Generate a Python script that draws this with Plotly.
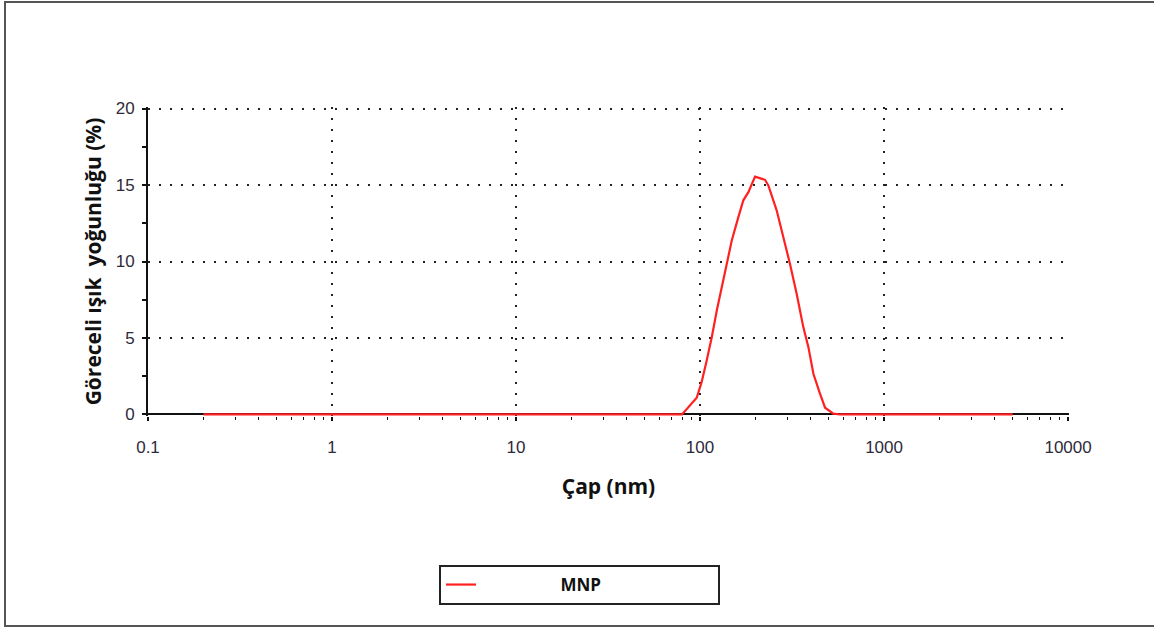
import plotly.graph_objects as go

# Data
diameter_nm = [0.2, 1, 10, 50, 79.8, 95.9, 102, 108.7, 115.8, 123.3, 131.2, 139.7, 148.7,
               161.5, 171.9, 183.1, 199, 225.5, 235, 261, 284, 308, 335, 364, 388,
               413, 449, 478, 530, 577, 1000, 5000]
intensity_pct = [0, 0, 0, 0, 0, 1.09, 2.11, 3.53, 5.05, 6.80, 8.32, 9.85, 11.37,
                 12.9, 14.0, 14.53, 15.55, 15.34, 14.97, 13.33, 11.59, 9.85, 7.89, 5.71, 4.40,
                 2.66, 1.35, 0.44, 0.05, 0, 0, 0]
series_name = "MNP"
x_tick_vals = [0.1, 1, 10, 100, 1000, 10000]
x_tick_text = ["0.1", "1", "10", "100", "1000", "10000"]
y_tick_vals = [0, 5, 10, 15, 20]

W, H = 1154, 630
L, R, T, B = 148, 85, 107, 214
pw, ph = W - L - R, H - T - B

def px_x(p):
    return (p - L) / pw

def px_y(p):
    return (H - B - p) / ph

fig = go.Figure()
fig.add_trace(go.Scatter(
    x=diameter_nm, y=intensity_pct, mode="lines",
    name="\u00a0" * 18 + "<b>" + series_name + "</b>",
    line=dict(color="#ff2020", width=2.2), showlegend=True,
))

tick_font = dict(family="Liberation Sans, Arial, sans-serif", size=17, color="#2e2a3a")
title_font_x = dict(family="Open Sans, sans-serif", size=21, color="#111111")
title_font_y = dict(family="Open Sans, sans-serif", size=21, color="#111111")

fig.update_layout(
    width=W, height=H,
    margin=dict(l=L, r=R, t=T, b=B),
    paper_bgcolor="white", plot_bgcolor="white",
    showlegend=True,
    legend=dict(
        x=px_x(439), y=px_y(565), xanchor="left", yanchor="top",
        orientation="h", bordercolor="#222222", borderwidth=2,
        bgcolor="white", entrywidth=232, entrywidthmode="pixels",
        font=dict(family="Open Sans, sans-serif", size=17, color="#111111"),
    ),
    shapes=[dict(
        type="rect", xref="paper", yref="paper",
        x0=px_x(5), x1=px_x(1170), y0=px_y(626), y1=px_y(2),
        line=dict(color="#555555", width=2), fillcolor="rgba(0,0,0,0)", layer="below",
    )],
)

fig.update_xaxes(
    type="log", range=[-1, 4.005],
    tickvals=x_tick_vals, ticktext=x_tick_text,
    ticks="outside", ticklen=4, tickwidth=1.5, tickcolor="#111111",
    minor=dict(ticks="outside", ticklen=3, tickwidth=1.2, tickcolor="#111111",
               showgrid=False, dtick="D1"),
    showline=False,
    showgrid=True, gridcolor="#222222", gridwidth=1.8, griddash="2px,9px",
    zeroline=False, layer="below traces",
    tickfont=tick_font, ticklabelstandoff=12,
    title=dict(text="<b>Çap (nm)</b>", font=title_font_x, standoff=22),
)
fig.update_yaxes(
    range=[-0.1, 20.1],
    tickvals=y_tick_vals,
    ticks="outside", ticklen=4, tickwidth=1.5, tickcolor="#111111",
    minor=dict(ticks="outside", ticklen=4, tickwidth=1.5, tickcolor="#111111",
               dtick=2.5, showgrid=False),
    showline=True, linecolor="#111111", linewidth=2,
    showgrid=True, gridcolor="#222222", gridwidth=1.8, griddash="2px,9px",
    zeroline=True, zerolinecolor="#111111", zerolinewidth=2,
    layer="below traces",
    tickfont=tick_font, ticklabelstandoff=4,
    title=dict(text="<b>Göreceli ışık\u00a0\u00a0yoğunluğu (%)</b>", font=title_font_y, standoff=8),
)

fig.write_html("out.html", config={"displayModeBar": False},
               post_script="document.body.style.margin='0';")
